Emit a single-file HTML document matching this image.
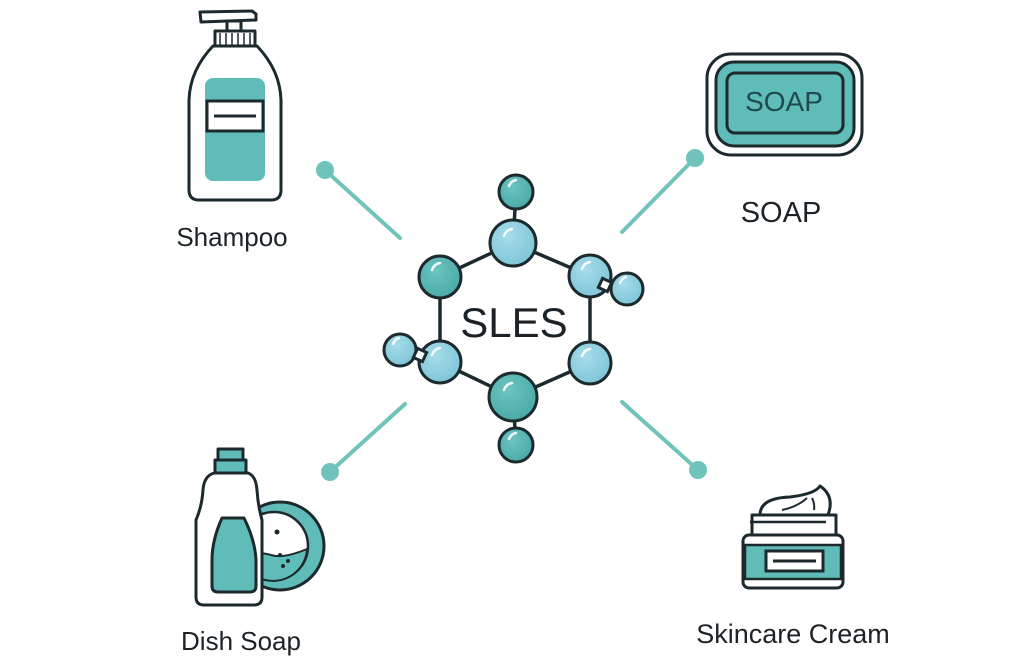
<!DOCTYPE html>
<html><head><meta charset="utf-8"><style>
html,body{margin:0;padding:0;background:#fff;}
svg{display:block;}
text{font-family:"Liberation Sans",sans-serif;}
</style></head><body>
<svg width="1024" height="667" viewBox="0 0 1024 667" xmlns="http://www.w3.org/2000/svg">
<defs>
<radialGradient id="gd" cx="0.4" cy="0.35" r="0.7"><stop offset="0" stop-color="#6cc4c0"/><stop offset="1" stop-color="#48a9a6"/></radialGradient>
<radialGradient id="gl" cx="0.4" cy="0.35" r="0.7"><stop offset="0" stop-color="#a6dcea"/><stop offset="1" stop-color="#7cc4d6"/></radialGradient>
</defs>
<g stroke="#6fc3bb" stroke-width="4" stroke-linecap="round">
<line x1="325" y1="170" x2="400" y2="238"/>
<line x1="695" y1="158" x2="622" y2="232"/>
<line x1="330" y1="472" x2="405" y2="404"/>
<line x1="698" y1="470" x2="622" y2="402"/>
</g>
<g fill="#6fc3bb"><circle cx="325" cy="170" r="9"/><circle cx="695" cy="158" r="9"/><circle cx="330" cy="472" r="9"/><circle cx="698" cy="470" r="9"/></g>
<g stroke="#1c2a2e" stroke-width="3.5" fill="none">
<polygon points="513,243 590,276 590,363 513,397 440,362 440,277"/>
<line x1="516" y1="192" x2="513" y2="243"/>
<line x1="516" y1="445" x2="513" y2="397"/>
</g>
<g stroke="#1c2a2e" stroke-width="3">
<circle cx="516" cy="192" r="17" fill="url(#gd)"/>
<circle cx="516" cy="445" r="17" fill="url(#gd)"/>
<circle cx="513" cy="243" r="23" fill="url(#gl)"/>
<circle cx="440" cy="277" r="21" fill="url(#gd)"/>
<circle cx="627" cy="289" r="16" fill="url(#gl)"/>
<circle cx="590" cy="276" r="21" fill="url(#gl)"/>
<rect x="600" y="280" width="10" height="10" fill="#fff" transform="rotate(25 605 285)"/>
<circle cx="400" cy="350" r="16" fill="url(#gl)"/>
<circle cx="440" cy="362" r="21" fill="url(#gl)"/>
<rect x="415" y="350" width="10" height="10" fill="#fff" transform="rotate(25 420 355)"/>
<circle cx="590" cy="363" r="21" fill="url(#gl)"/>
<circle cx="513" cy="397" r="24" fill="url(#gd)"/>
</g>
<g stroke="#fff" stroke-width="2.5" fill="none" stroke-linecap="round" opacity="0.9">
<path d="M509,186 q2,-5 7,-6"/><path d="M509,439 q2,-5 7,-6"/><path d="M504,236 q2,-6 8,-7"/>
<path d="M432,270 q2,-6 8,-7"/><path d="M582,269 q2,-6 8,-7"/><path d="M432,355 q2,-6 8,-7"/>
<path d="M582,356 q2,-6 8,-7"/><path d="M504,390 q2,-6 8,-7"/><path d="M620,283 q2,-5 6,-6"/><path d="M393,344 q2,-5 6,-6"/>
</g>
<text x="514" y="337" font-size="42" text-anchor="middle" fill="#1c2226">SLES</text>
<g stroke="#1c2a2e" stroke-width="3" fill="#fff" stroke-linejoin="round">
<path d="M200,12 L252,11 L256,14 L256,20 L201,22 Z"/>
<rect x="227" y="21" width="14" height="11"/>
<rect x="215" y="31" width="40" height="15" fill="#fff"/>
<path d="M213,46 L257,46 Q280,70 281,100 L281,190 Q281,200 271,200 L199,200 Q189,200 189,190 L189,100 Q190,70 213,46 Z"/>
</g>
<g stroke="#1c2a2e" stroke-width="1.5"><line x1="220" y1="33" x2="220" y2="45"/><line x1="226" y1="33" x2="226" y2="45"/><line x1="232" y1="33" x2="232" y2="45"/><line x1="238" y1="33" x2="238" y2="45"/><line x1="244" y1="33" x2="244" y2="45"/><line x1="250" y1="33" x2="250" y2="45"/></g>
<rect x="205" y="78" width="60" height="103" rx="8" fill="#5fbcb8"/>
<rect x="207" y="101" width="56" height="30" fill="#fff" stroke="#1c2a2e" stroke-width="3"/>
<line x1="214" y1="116" x2="256" y2="116" stroke="#1c2a2e" stroke-width="3"/>
<text x="232" y="246" font-size="26" text-anchor="middle" fill="#1c2226">Shampoo</text>
<rect x="707" y="54" width="155" height="101" rx="24" fill="#fff" stroke="#1c2a2e" stroke-width="3"/>
<rect x="716" y="62" width="138" height="84" rx="18" fill="#5fbcb8" stroke="#1c2a2e" stroke-width="3"/>
<rect x="727" y="73" width="116" height="60" rx="8" fill="#5fbcb8" stroke="#1c2a2e" stroke-width="3"/>
<text x="784" y="111" font-size="28" text-anchor="middle" fill="#1f4a50">SOAP</text>
<text x="781" y="222" font-size="29" text-anchor="middle" fill="#1c2226">SOAP</text>
<circle cx="280" cy="546" r="44" fill="#5fbcb8" stroke="#1c2a2e" stroke-width="3"/>
<circle cx="274" cy="546" r="34" fill="#fff" stroke="#1c2a2e" stroke-width="2.5"/>
<path d="M241,558 q14,-8 30,-3 q12,4 36,-6 L307,550 A34,34 0 0 1 241,558 Z" fill="#5fbcb8" stroke="#1c2a2e" stroke-width="2"/>
<g fill="#1c2a2e"><circle cx="277" cy="532" r="2.5"/><circle cx="280" cy="555" r="2"/><circle cx="288" cy="561" r="2"/><circle cx="283" cy="566" r="2"/></g>
<g stroke="#1c2a2e" stroke-width="3" stroke-linejoin="round">
<rect x="218" y="449" width="25" height="11" fill="#5fbcb8"/>
<rect x="215" y="460" width="31" height="13" fill="#5fbcb8"/>
<path d="M214,473 L248,473 Q256,476 257,490 Q258,506 262,520 L262,597 Q262,605 254,605 L204,605 Q196,605 196,597 L196,520 Q202,506 203,490 Q204,476 214,473 Z" fill="#fff"/>
<path d="M222,518 L244,518 Q255,540 256,560 L256,586 Q256,592 250,592 L218,592 Q212,592 212,586 L212,560 Q212,540 222,518 Z" fill="#5fbcb8"/>
</g>
<text x="241" y="650" font-size="26" text-anchor="middle" fill="#1c2226">Dish Soap</text>
<g stroke="#1c2a2e" stroke-width="3" stroke-linejoin="round" fill="#fff">
<path d="M760,515 Q760,498 790,497 Q815,494 820,486 Q835,496 828,515 Z"/>
<rect x="752" y="515" width="84" height="20"/>
<rect x="743" y="535" width="100" height="53" rx="6"/>
</g>
<rect x="745" y="545" width="96" height="34" fill="#5fbcb8" stroke="#1c2a2e" stroke-width="2.5"/>
<rect x="766" y="551" width="57" height="20" fill="#fff" stroke="#1c2a2e" stroke-width="3"/>
<line x1="773" y1="561" x2="816" y2="561" stroke="#1c2a2e" stroke-width="3"/>
<line x1="750" y1="522" x2="826" y2="522" stroke="#1c2a2e" stroke-width="2.5"/>
<path d="M782,510 q15,-3 25,-12 M812,498 q3,6 2,12" stroke="#1c2a2e" stroke-width="2" fill="none"/>
<text x="793" y="643" font-size="27" text-anchor="middle" fill="#1c2226">Skincare Cream</text>
</svg>
</body></html>
